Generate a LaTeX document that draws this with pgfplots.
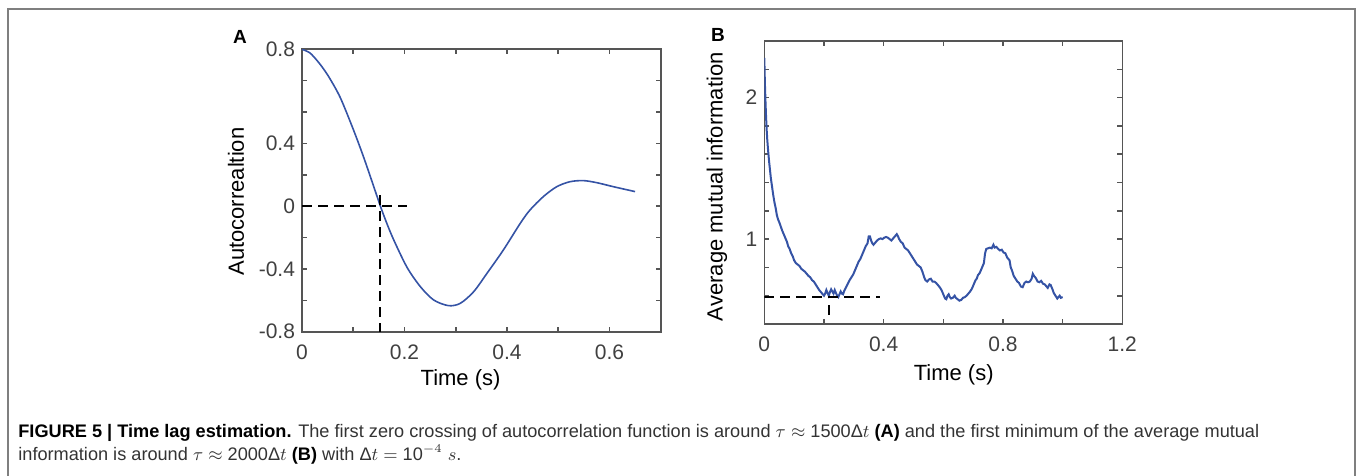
\documentclass[border=0pt]{standalone}
\usepackage{pgfplots}
\pgfplotsset{compat=1.18}
\usepackage{fontspec}
\setmainfont{Liberation Sans}
\definecolor{curve}{HTML}{3553A5}
\definecolor{axgray}{HTML}{555555}
\definecolor{tickgray}{HTML}{404040}
\definecolor{framegray}{HTML}{7F7F7F}
\definecolor{captext}{HTML}{333333}

\pgfplotstableread{
t y
0 1.0
0.015 0.978
0.029 0.930
0.042 0.875
0.055 0.810
0.075 0.690
0.100 0.490
0.120 0.315
0.140 0.125
0.153 0.000
0.165 -0.105
0.179 -0.215
0.205 -0.390
0.231 -0.513
0.257 -0.598
0.286 -0.634
0.309 -0.619
0.335 -0.545
0.361 -0.428
0.393 -0.279
0.426 -0.109
0.445 -0.024
0.471 0.061
0.497 0.124
0.523 0.156
0.549 0.163
0.575 0.150
0.608 0.124
0.650 0.093
}\acdata

\pgfplotstableread{
t y
0 2.28
0.002 2.1
0.004 1.97
0.006 1.86
0.008 1.77
0.010 1.70
0.013 1.62
0.016 1.55
0.019 1.49
0.022 1.43
0.026 1.37
0.030 1.31
0.034 1.26
0.038 1.22
0.042 1.17
0.046 1.14
0.050 1.12
0.055 1.09
0.060 1.06
0.064 1.04
0.068 1.02
0.072 1.00
0.076 0.98
0.080 0.95
0.085 0.93
0.090 0.90
0.095 0.88
0.100 0.85
0.106 0.83
0.112 0.82
0.118 0.81
0.124 0.79
0.130 0.78
0.136 0.77
0.142 0.755
0.148 0.74
0.154 0.73
0.160 0.71
0.166 0.70
0.172 0.68
0.178 0.66
0.184 0.64
0.190 0.625
0.196 0.61
0.200 0.60
0.204 0.615
0.208 0.64
0.212 0.62
0.216 0.60
0.220 0.625
0.224 0.645
0.228 0.63
0.232 0.615
0.236 0.64
0.240 0.62
0.244 0.60
0.248 0.59
0.252 0.61
0.256 0.63
0.260 0.615
0.264 0.61
0.268 0.635
0.274 0.66
0.280 0.685
0.286 0.71
0.292 0.73
0.298 0.75
0.304 0.78
0.310 0.81
0.316 0.84
0.322 0.86
0.328 0.89
0.334 0.92
0.340 0.95
0.346 0.97
0.350 1.02
0.354 1.02
0.358 0.99
0.362 0.97
0.366 0.96
0.372 0.975
0.378 0.99
0.384 1.00
0.390 1.005
0.396 1.00
0.402 1.01
0.408 1.015
0.414 1.01
0.420 1.00
0.426 0.99
0.432 1.005
0.438 1.02
0.444 1.035
0.448 1.02
0.452 1.00
0.458 0.98
0.464 0.97
0.470 0.94
0.476 0.93
0.482 0.92
0.488 0.90
0.494 0.88
0.500 0.86
0.506 0.84
0.512 0.82
0.518 0.81
0.524 0.80
0.530 0.77
0.536 0.73
0.540 0.71
0.546 0.70
0.552 0.715
0.558 0.72
0.564 0.70
0.570 0.70
0.576 0.69
0.582 0.675
0.588 0.66
0.594 0.64
0.600 0.61
0.606 0.58
0.610 0.575
0.614 0.60
0.618 0.61
0.622 0.59
0.626 0.58
0.632 0.585
0.638 0.60
0.642 0.585
0.648 0.575
0.654 0.565
0.660 0.57
0.666 0.585
0.672 0.59
0.678 0.60
0.684 0.615
0.690 0.63
0.696 0.65
0.702 0.68
0.708 0.71
0.712 0.72
0.716 0.745
0.722 0.76
0.726 0.78
0.730 0.80
0.736 0.83
0.740 0.90
0.744 0.93
0.750 0.935
0.756 0.94
0.762 0.935
0.768 0.96
0.772 0.94
0.778 0.945
0.784 0.93
0.790 0.92
0.796 0.925
0.802 0.905
0.808 0.90
0.814 0.87
0.818 0.86
0.822 0.85
0.826 0.80
0.830 0.78
0.836 0.74
0.842 0.72
0.848 0.70
0.854 0.69
0.860 0.665
0.866 0.66
0.872 0.69
0.878 0.70
0.884 0.695
0.890 0.70
0.896 0.72
0.900 0.755
0.904 0.74
0.910 0.725
0.916 0.70
0.922 0.695
0.928 0.705
0.934 0.685
0.940 0.68
0.946 0.665
0.950 0.655
0.956 0.68
0.960 0.675
0.966 0.645
0.970 0.62
0.976 0.60
0.982 0.58
0.986 0.59
0.990 0.60
0.994 0.585
1.000 0.59
}\amidata

\pgfplotsset{
  myax/.style={
    scale only axis,
    anchor=south west,
    axis line style={axgray, line width=0.8bp},
    every tick/.style={axgray, line width=0.8bp},
    tick align=inside,
    major tick length=2.5bp,
    xtick pos=both, ytick pos=both,
    xticklabel pos=lower, yticklabel pos=left,
    ticklabel style={font=\fontsize{10.5bp}{12bp}\selectfont, text=tickgray},
    xticklabel style={yshift=-3bp},
    label style={font=\fontsize{11bp}{13bp}\selectfont, text=black},
    /pgf/number format/assume math mode=true,
  }
}

\begin{document}
\begin{tikzpicture}
\path[use as bounding box] (0,0) rectangle (680bp,238bp);
\draw[framegray, line width=1bp] (3.75bp,-1bp) -- (3.75bp,233.5bp) -- (677.5bp,233.5bp) -- (677.5bp,-1bp);

\begin{axis}[myax,
  at={(151bp,72.15bp)},
  width=179.35bp, height=141.2bp,
  xmin=0, xmax=0.7, ymin=-0.8, ymax=1.0,
  xtick={0,0.1,0.2,0.3,0.4,0.5,0.6,0.7},
  xticklabels={0,{},0.2,{},0.4,{},0.6,{}},
  ytick={-0.8,-0.6,-0.4,-0.2,0,0.2,0.4,0.6,0.8,1.0},
  yticklabels={-0.8,{},-0.4,{},0,{},0.4,{},{},0.8},
  xlabel={Time (s)}, ylabel={Autocorrealtion},
  xlabel style={at={(axis description cs:0.442,-0.171)}, anchor=center},
  ylabel style={at={(axis description cs:-0.184,0.461)}, anchor=center},
]
\addplot[curve, line width=0.8bp, smooth, tension=0.5] table[x=t, y=y] {\acdata};
\addplot[black, line width=1bp, dash pattern=on 5bp off 3bp] coordinates {(0,0) (0.205,0)};
\addplot[black, line width=1bp, dash pattern=on 5bp off 3bp] coordinates {(0.153,0.07) (0.153,-0.8)};
\end{axis}

\begin{axis}[myax,
  at={(382.15bp,76bp)},
  width=179bp, height=141.5bp,
  xmin=0, xmax=1.2, ymin=0.4, ymax=2.4,
  xtick={0,0.2,0.4,0.6,0.8,1.0,1.2},
  xticklabels={0,{},0.4,{},0.8,{},1.2},
  ytick={0.4,0.6,0.8,1.0,1.2,1.4,1.6,1.8,2.0,2.2,2.4},
  yticklabels={{},{},{},1,{},{},{},{},2,{},{}},
  xlabel={Time (s)}, ylabel={Average mutual information},
  xlabel style={at={(axis description cs:0.529,-0.18)}, anchor=center},
  ylabel style={at={(axis description cs:-0.132,0.485)}, anchor=center},
]
\addplot[curve, line width=1bp] table[x=t, y=y] {\amidata};
\addplot[black, line width=1bp, dash pattern=on 5bp off 3bp] coordinates {(0,0.592) (0.388,0.592)};
\addplot[black, line width=1bp] coordinates {(0.217,0.533) (0.217,0.462)};
\end{axis}

\node[font=\bfseries\fontsize{9.5bp}{11bp}\selectfont] at (120bp,219.5bp) {A};
\node[font=\bfseries\fontsize{9.5bp}{11bp}\selectfont] at (359bp,220.5bp) {B};

\node[anchor=base west, inner sep=0pt, font=\fontsize{9.08bp}{10bp}\selectfont, text=captext] at (9bp,19.35bp)
  {\textbf{\color{black}FIGURE 5 | Time lag estimation.} The first zero crossing of autocorrelation function is around $\tau\approx$ 1500Δ$t$ \textbf{\color{black}(A)} and the first minimum of the average mutual};
\node[anchor=base west, inner sep=0pt, font=\fontsize{9.08bp}{10bp}\selectfont, text=captext] at (9bp,8bp)
  {information is around $\tau\approx$ 2000Δ$t$ \textbf{\color{black}(B)} with Δ$t$ $=$ 10$^{-4}$ $s$.};
\end{tikzpicture}
\end{document}
